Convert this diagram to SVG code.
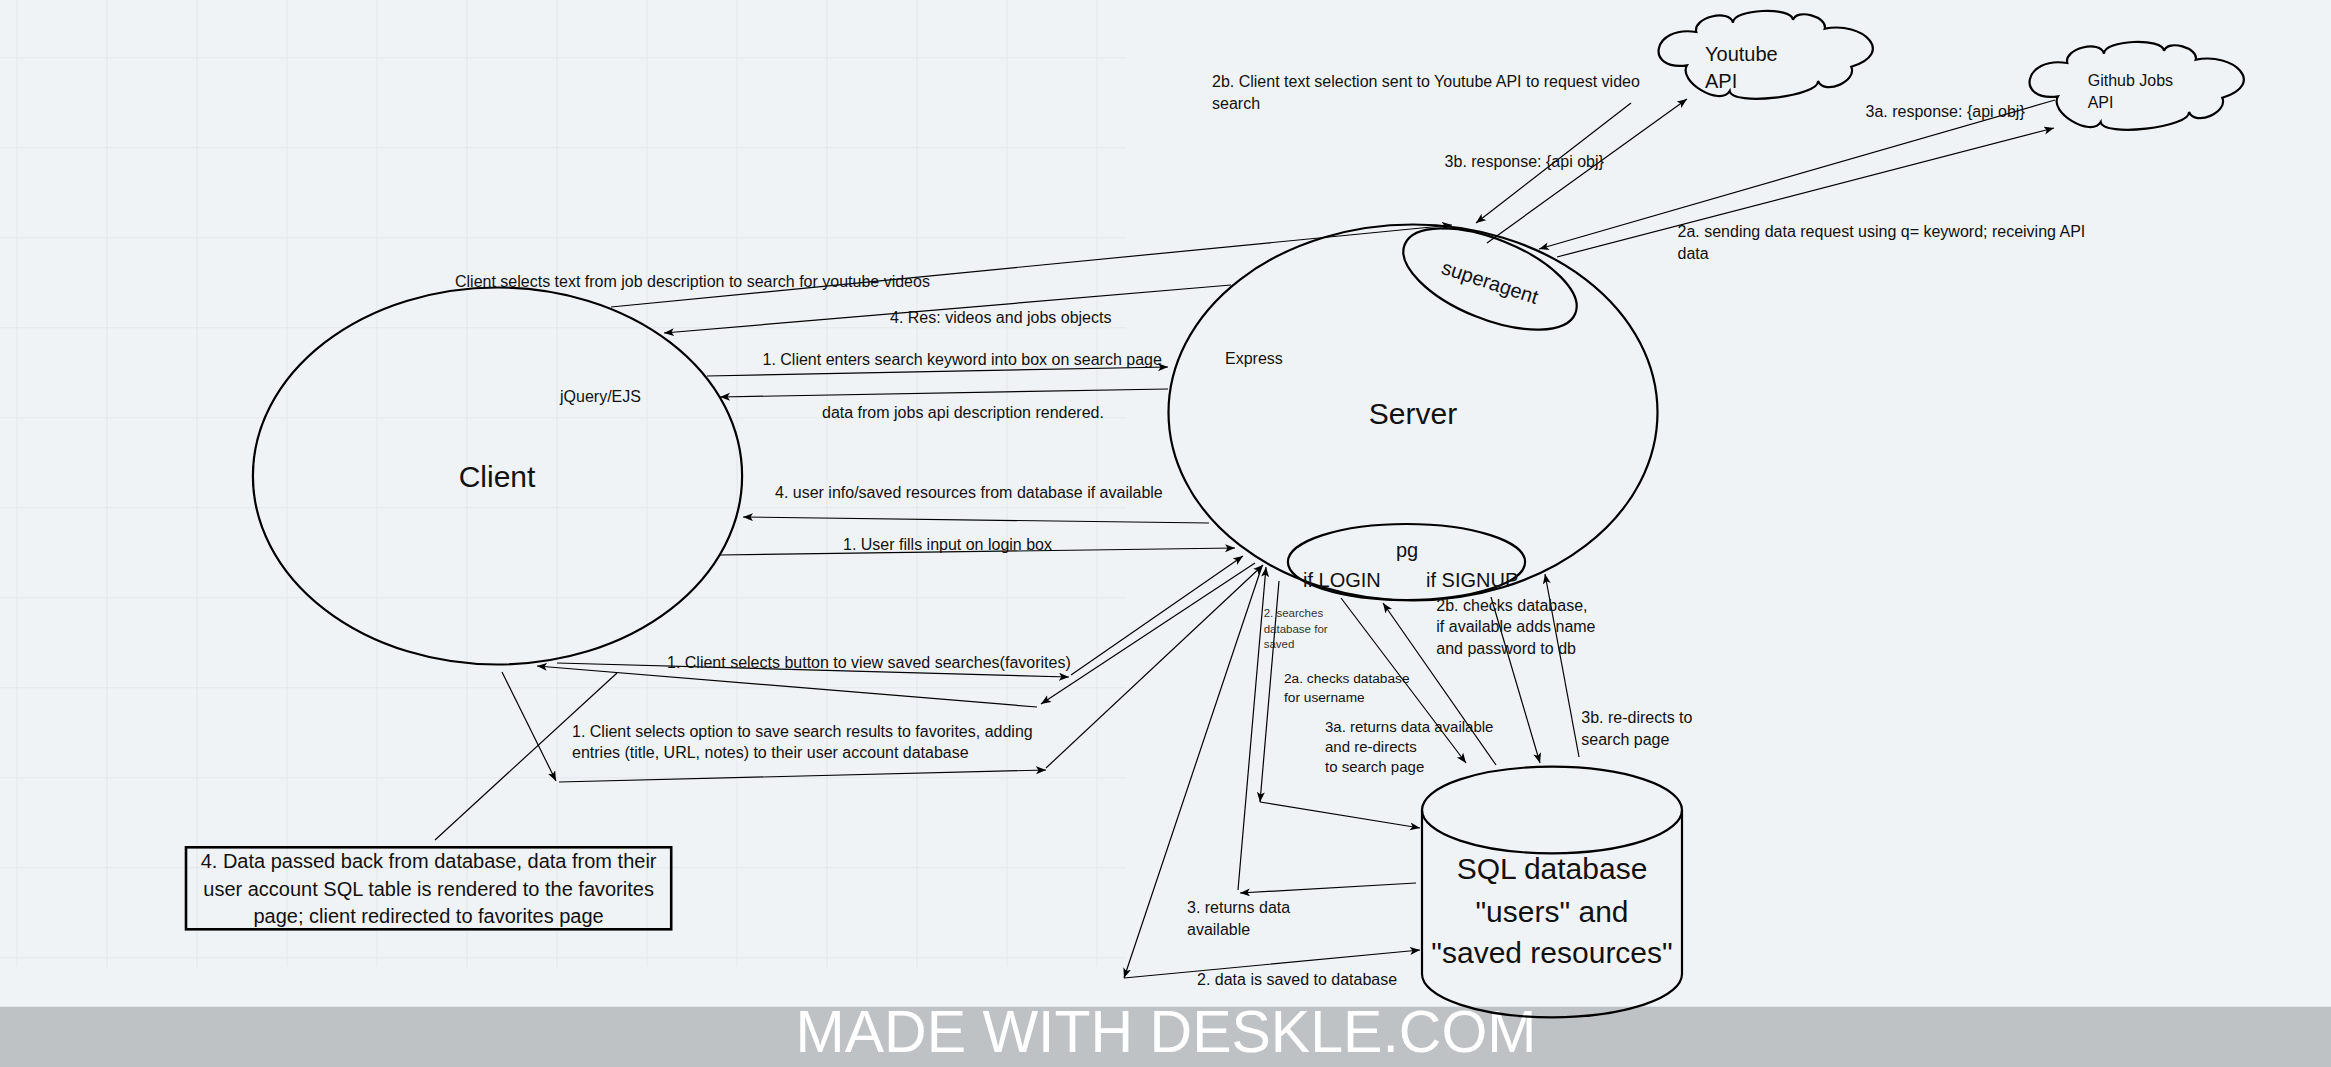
<svg xmlns="http://www.w3.org/2000/svg" xmlns:xlink="http://www.w3.org/1999/xlink" width="2331" height="1067" viewBox="0 0 2331 1067">
<style>
.node{fill:none;stroke:#000;stroke-width:2.2}
.box{fill:none;stroke:#000;stroke-width:2.6}
.conn line{stroke:#000;stroke-width:1.2;fill:none}
.arr{marker-end:url(#ah)}
text{font-family:"Liberation Sans",Arial,sans-serif;fill:#111}
.l16{font-size:16px}
.l15{font-size:15px}
.l14{font-size:13.7px}
.l12{font-size:11.5px;fill:#333}
.l20{font-size:20px}
.l30{font-size:30px}
.mid{text-anchor:middle}
</style>
<defs>
<pattern id="grid" patternUnits="userSpaceOnUse" x="16.5" y="57.3" width="90" height="90">
<path d="M0,0.5 H90 M0.5,0 V90" stroke="#e2e7ec" stroke-width="1" fill="none"/>
</pattern>
<marker id="ah" markerUnits="userSpaceOnUse" markerWidth="11" markerHeight="9" refX="10" refY="4" orient="auto" viewBox="0 0 11 9">
<path d="M0,0 L10,4 L0,8 L2.5,4 Z" fill="#000"/>
</marker>
<path id="cloud" d="M29,54.3 C-14,60 -6,14 38.3,21 C34.6,6.5 71.3,-2.8 75,11.7 C74.4,-2.1 134.4,-4.8 135,9 C138.3,-3 170,5.7 166.7,17.7 C205,10 238,42 193.3,55.7 C199.6,70.4 166.3,84.7 160,70 C161.7,85.5 73.4,95.5 71.7,80 C62.1,96 19.4,70.3 29,54.3 Z"/>
</defs>
<rect width="2331" height="1067" fill="#f0f3f6"/>
<rect x="0" y="0" width="1126" height="967" fill="url(#grid)"/>
<g id="banner">
<rect x="0" y="1006.7" width="2331" height="60.3" fill="#bfc2c5"/>
<text x="1166" y="1051.7" class="mid" style="font-size:59px;fill:#ffffff">MADE WITH DESKLE.COM</text>
</g>

<g id="client">
<ellipse class="node" cx="497.5" cy="476" rx="244.6" ry="188.5"/>
<text x="497" y="486.7" class="l30 mid">Client</text>
<text x="560" y="402" class="l16">jQuery/EJS</text>
</g>

<g id="server">
<ellipse class="node" cx="1413" cy="412.5" rx="244.5" ry="188"/>
<text x="1413" y="424" class="l30 mid">Server</text>
<text x="1225" y="364" class="l16">Express</text>
</g>

<g id="superagent">
<ellipse class="node" cx="1490" cy="279" rx="92" ry="40" transform="rotate(22 1490 279)"/>
<text transform="translate(1490,282) rotate(18)" y="7" class="l20 mid">superagent</text>
</g>

<g id="pg">
<ellipse class="node" cx="1406.5" cy="562" rx="118.6" ry="38"/>
<text x="1407" y="556.7" class="l20 mid">pg</text>
<text x="1303" y="587" class="l20">if LOGIN</text>
<text x="1426" y="587" class="l20">if SIGNUP</text>
</g>

<g id="youtube-api">
<use xlink:href="#cloud" href="#cloud" transform="translate(1658,11)" class="node"/>
<text x="1705" y="61" class="l20">Youtube</text>
<text x="1705" y="88.3" class="l20">API</text>
</g>

<g id="github-api">
<use xlink:href="#cloud" href="#cloud" transform="translate(2029,42)" class="node"/>
<text x="2087.7" y="85.7" class="l16">Github Jobs</text>
<text x="2087.7" y="107.7" class="l16">API</text>
</g>

<g id="database">
<path class="node" d="M1422,810 V974 A130,43.3 0 0 0 1682,974 V810"/>
<ellipse class="node" cx="1552" cy="810" rx="130" ry="43.3"/>
<text x="1552" y="879.3" class="l30 mid">SQL database</text>
<text x="1552" y="921.7" class="l30 mid">"users" and</text>
<text x="1552" y="962.7" class="l30 mid">"saved resources"</text>
</g>

<g id="favorites-note">
<rect class="box" x="186" y="847.3" width="485.2" height="82"/>
<text x="428.6" y="868.3" class="l20 mid">4. Data passed back from database, data from their</text>
<text x="428.6" y="896" class="l20 mid">user account SQL table is rendered to the favorites</text>
<text x="428.6" y="923.3" class="l20 mid">page; client redirected to favorites page</text>
</g>

<g id="connectors" class="conn">
<line class="arr" x1="611" y1="307" x2="1452" y2="225"/>
<line class="arr" x1="1231" y1="285" x2="664" y2="333"/>
<line class="arr" x1="707" y1="376" x2="1168" y2="367"/>
<line class="arr" x1="1168" y1="389" x2="720" y2="397"/>
<line class="arr" x1="1209" y1="523" x2="743" y2="517"/>
<line class="arr" x1="720" y1="555" x2="1235" y2="548"/>
<line class="arr" x1="557" y1="663" x2="1069" y2="677"/>
<line class="arr" x1="1071" y1="675" x2="1243" y2="556"/>
<line class="arr" x1="1255" y1="563" x2="1041" y2="704"/>
<line class="arr" x1="1037" y1="707" x2="537" y2="666"/>
<line class="arr" x1="502" y1="672" x2="556" y2="781"/>
<line class="arr" x1="559" y1="782" x2="1046" y2="770"/>
<line class="arr" x1="1046" y1="768" x2="1263" y2="565"/>
<line x1="617" y1="673" x2="435" y2="840"/>
<line class="arr" x1="1279" y1="581" x2="1260" y2="802"/>
<line class="arr" x1="1260" y1="802" x2="1420" y2="828"/>
<line class="arr" x1="1416" y1="883" x2="1240" y2="893"/>
<line class="arr" x1="1238" y1="890" x2="1266" y2="567"/>
<line class="arr" x1="1262" y1="566" x2="1124" y2="978"/>
<line class="arr" x1="1124" y1="978" x2="1420" y2="950"/>
<line class="arr" x1="1341" y1="598" x2="1466" y2="763"/>
<line class="arr" x1="1496" y1="765" x2="1383" y2="603"/>
<line class="arr" x1="1491" y1="597" x2="1540" y2="763"/>
<line class="arr" x1="1579" y1="757" x2="1545" y2="574"/>
<line class="arr" x1="1487" y1="243" x2="1687" y2="99"/>
<line class="arr" x1="1631" y1="103" x2="1476" y2="223"/>
<line class="arr" x1="2055" y1="100" x2="1539" y2="249"/>
<line class="arr" x1="1557" y1="257" x2="2054" y2="128"/>
</g>

<g id="labels">
<text x="1212" y="87.3" class="l16">2b. Client text selection sent to Youtube API to request video</text>
<text x="1212" y="109.3" class="l16">search</text>
<text x="1444.6" y="167.3" class="l16">3b. response: {api obj}</text>
<text x="1865.5" y="117.3" class="l16">3a. response: {api obj}</text>
<text x="1677.5" y="237.3" class="l16">2a. sending data request using q= keyword; receiving API</text>
<text x="1677.5" y="259.3" class="l16">data</text>
<text x="455" y="287.3" class="l16">Client selects text from job description to search for youtube videos</text>
<text x="890" y="322.7" class="l16">4. Res: videos and jobs objects</text>
<text x="762.5" y="365" class="l16">1. Client enters search keyword into box on search page</text>
<text x="822" y="418" class="l16">data from jobs api description rendered.</text>
<text x="775" y="497.7" class="l16">4. user info/saved resources from database if available</text>
<text x="843" y="550" class="l16">1. User fills input on login box</text>
<text x="667" y="667.7" class="l16">1. Client selects button to view saved searches(favorites)</text>
<text x="572" y="736.5" class="l16">1. Client selects option to save search results to favorites, adding</text>
<text x="572" y="758" class="l16">entries (title, URL, notes) to their user account database</text>
<text x="1263.7" y="617.3" class="l12">2. searches</text>
<text x="1263.7" y="633" class="l12">database for</text>
<text x="1263.7" y="648.3" class="l12">saved</text>
<text x="1284" y="683.3" class="l14">2a. checks database</text>
<text x="1284" y="702.3" class="l14">for username</text>
<text x="1325" y="731.7" class="l15">3a. returns data available</text>
<text x="1325" y="752.3" class="l15">and re-directs</text>
<text x="1325" y="772.3" class="l15">to search page</text>
<text x="1436.3" y="610.7" class="l16">2b. checks database,</text>
<text x="1436.3" y="632.3" class="l16">if available adds name</text>
<text x="1436.3" y="654" class="l16">and password to db</text>
<text x="1581.3" y="722.7" class="l16">3b. re-directs to</text>
<text x="1581.3" y="745" class="l16">search page</text>
<text x="1187" y="913.3" class="l16">3. returns data</text>
<text x="1187" y="935" class="l16">available</text>
<text x="1197" y="985" class="l16">2. data is saved to database</text>
</g>
</svg>
